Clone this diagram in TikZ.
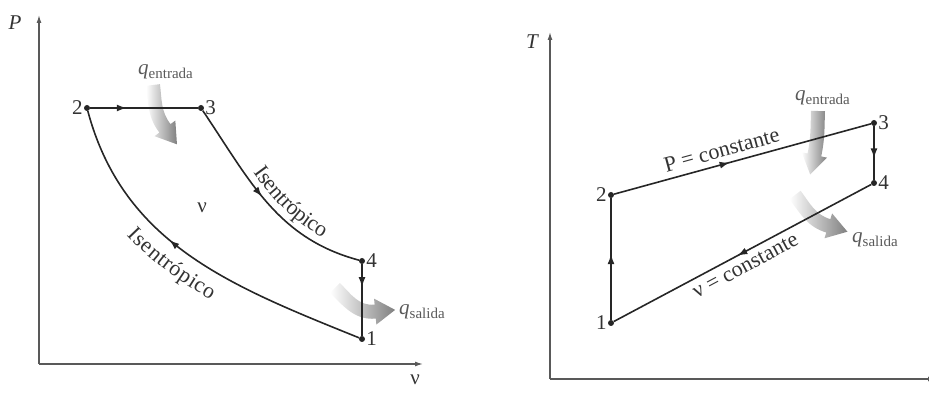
\documentclass[tikz,border=0pt]{standalone}
\usepackage{fontspec}
\setmainfont{Liberation Serif}
\usetikzlibrary{arrows.meta,positioning,decorations.markings,decorations.text}

\begin{document}
\begin{tikzpicture}[x=1pt,y=1pt,
  pt/.style={circle,fill=black!85,inner sep=0pt,minimum size=6pt},
  lbl/.style={text=black!80,font=\fontsize{21}{23}\selectfont,inner sep=1pt},
  qlbl/.style={text=black!65,font=\fontsize{21}{23}\selectfont,inner sep=1pt,anchor=west},
  along/.style={decorate,decoration={text along path,text color=black!80,#1}},
  axis/.style={draw=black!65,line width=1.3pt,-{Latex[length=8pt,width=5pt]}},
  cyc/.style={draw=black!85,line width=1.6pt},
  mid/.style={postaction={decorate},decoration={markings,
      mark=at position #1 with {\arrow{Latex[length=10pt,width=7pt]}}}},
  heat/.pic={
    \coordinate (-ta) at ({7*sin(#1)},{7*cos(#1)});
    \coordinate (-na) at ({64-20*cos(#1)-7*sin(#1)},{-20*sin(#1)+7*cos(#1)});
    \coordinate (-ha) at ({64-20*cos(#1)-13*sin(#1)},{-20*sin(#1)+13*cos(#1)});
    \coordinate (-tip) at (64,0);
    \coordinate (-hb) at ({64-20*cos(#1)+13*sin(#1)},{-20*sin(#1)-13*cos(#1)});
    \coordinate (-nb) at ({64-20*cos(#1)+7*sin(#1)},{-20*sin(#1)-7*cos(#1)});
    \coordinate (-tb) at ({-7*sin(#1)},{-7*cos(#1)});
    \shade[left color=white,right color=black!50]
      (-ta) to[out={-(#1)},in={180+(#1)}] (-na) -- (-ha) -- (-tip) -- (-hb)
      -- (-nb) to[out={180+(#1)},in={-(#1)}] (-tb) -- cycle;
  }
]
  \useasboundingbox (0,0) rectangle (929,403);

  % P-v diagram
  \coordinate (oL) at (39,39);
  \coordinate (pTop) at (39,388);
  \coordinate (vEnd) at (423,39);
  \draw[axis] (oL) -- (pTop);
  \draw[axis] (oL) -- (vEnd);
  \node[lbl,font=\fontsize{21}{23}\selectfont\itshape] (pLab) at (15,380) {P};
  \node[lbl] (vLab) at (415,23) {ν};

  \node[pt,label={[lbl]left:2}] (a2) at (87,295) {};
  \node[pt,label={[lbl]right:3}] (a3) at (201,295) {};
  \node[pt,label={[lbl]right:4}] (a4) at (362,142) {};
  \node[pt,label={[lbl]right:1}] (a1) at (362,64) {};

  \pic[rotate=-68] (qinL) at (153,318) {heat=15};
  \pic[rotate=-20] (qoutL) at (335,115) {heat=25};

  \draw[cyc,mid=0.34] (a2) -- (a3);
  \draw[cyc,mid=0.47] (a3) to[out=-56,in=165] (a4);
  \draw[cyc,mid=0.32] (a4) -- (a1);
  \draw[cyc,mid=0.58] (a1) to[out=158,in=-75] (a2);

  \path[along={text={|\fontsize{22}{24}\selectfont|Isentrópico},
      text align={left indent=80pt},raise=8pt}] (a3) to[out=-56,in=165] (a4);
  \path[along={text={|\fontsize{22}{24}\selectfont|Isentrópico},
      text align={left indent=122pt},raise=-26pt}] (a2) to[out=-75,in=158] (a1);
  \node[lbl] (vMid) at (202,195) {ν};
  \node[qlbl] (qinLt) at (137,331) {\textit{q}\raisebox{-4pt}{\fontsize{15}{17}\selectfont entrada}};
  \node[qlbl] (qoutLt) at (398,91) {\textit{q}\raisebox{-4pt}{\fontsize{15}{17}\selectfont salida}};

  % T-s diagram
  \coordinate (oR) at (550,24);
  \coordinate (tTop) at (550,371);
  \coordinate (sEnd) at (936,24);
  \draw[axis] (oR) -- (tTop);
  \draw[axis] (oR) -- (sEnd);
  \node[lbl,font=\fontsize{21}{23}\selectfont\itshape] (tLab) at (532,361) {T};
  \node[lbl,font=\fontsize{21}{23}\selectfont\itshape] (sLab) at (933,9) {s};

  \node[pt,label={[lbl]left:1}] (b1) at (611,80) {};
  \node[pt,label={[lbl]left:2}] (b2) at (611,208) {};
  \node[pt,label={[lbl]right:3}] (b3) at (874,280) {};
  \node[pt,label={[lbl]right:4}] (b4) at (874,220) {};

  \pic[rotate=-97] (qinR) at (818,292) {heat=-5};
  \pic[rotate=-35] (qoutR) at (795,208) {heat=18};

  \draw[cyc,mid=0.54] (b1) -- (b2);
  \draw[cyc,mid=0.45] (b2) -- (b3);
  \draw[cyc,mid=0.6] (b3) -- (b4);
  \draw[cyc,mid=0.52] (b4) -- (b1);

  \path[along={text={|\fontsize{22}{24}\selectfont|P = constante},
      text align={left indent=56pt},raise=7pt}] (b2) -- (b3);
  \path[along={text={|\fontsize{22}{24}\selectfont|ν = constante},
      text align={left indent=84pt},raise=-19pt}] (b1) -- (b4);
  \node[qlbl] (qinRt) at (794,305) {\textit{q}\raisebox{-4pt}{\fontsize{15}{17}\selectfont entrada}};
  \node[qlbl] (qoutRt) at (851,163) {\textit{q}\raisebox{-4pt}{\fontsize{15}{17}\selectfont salida}};
\end{tikzpicture}
\end{document}
